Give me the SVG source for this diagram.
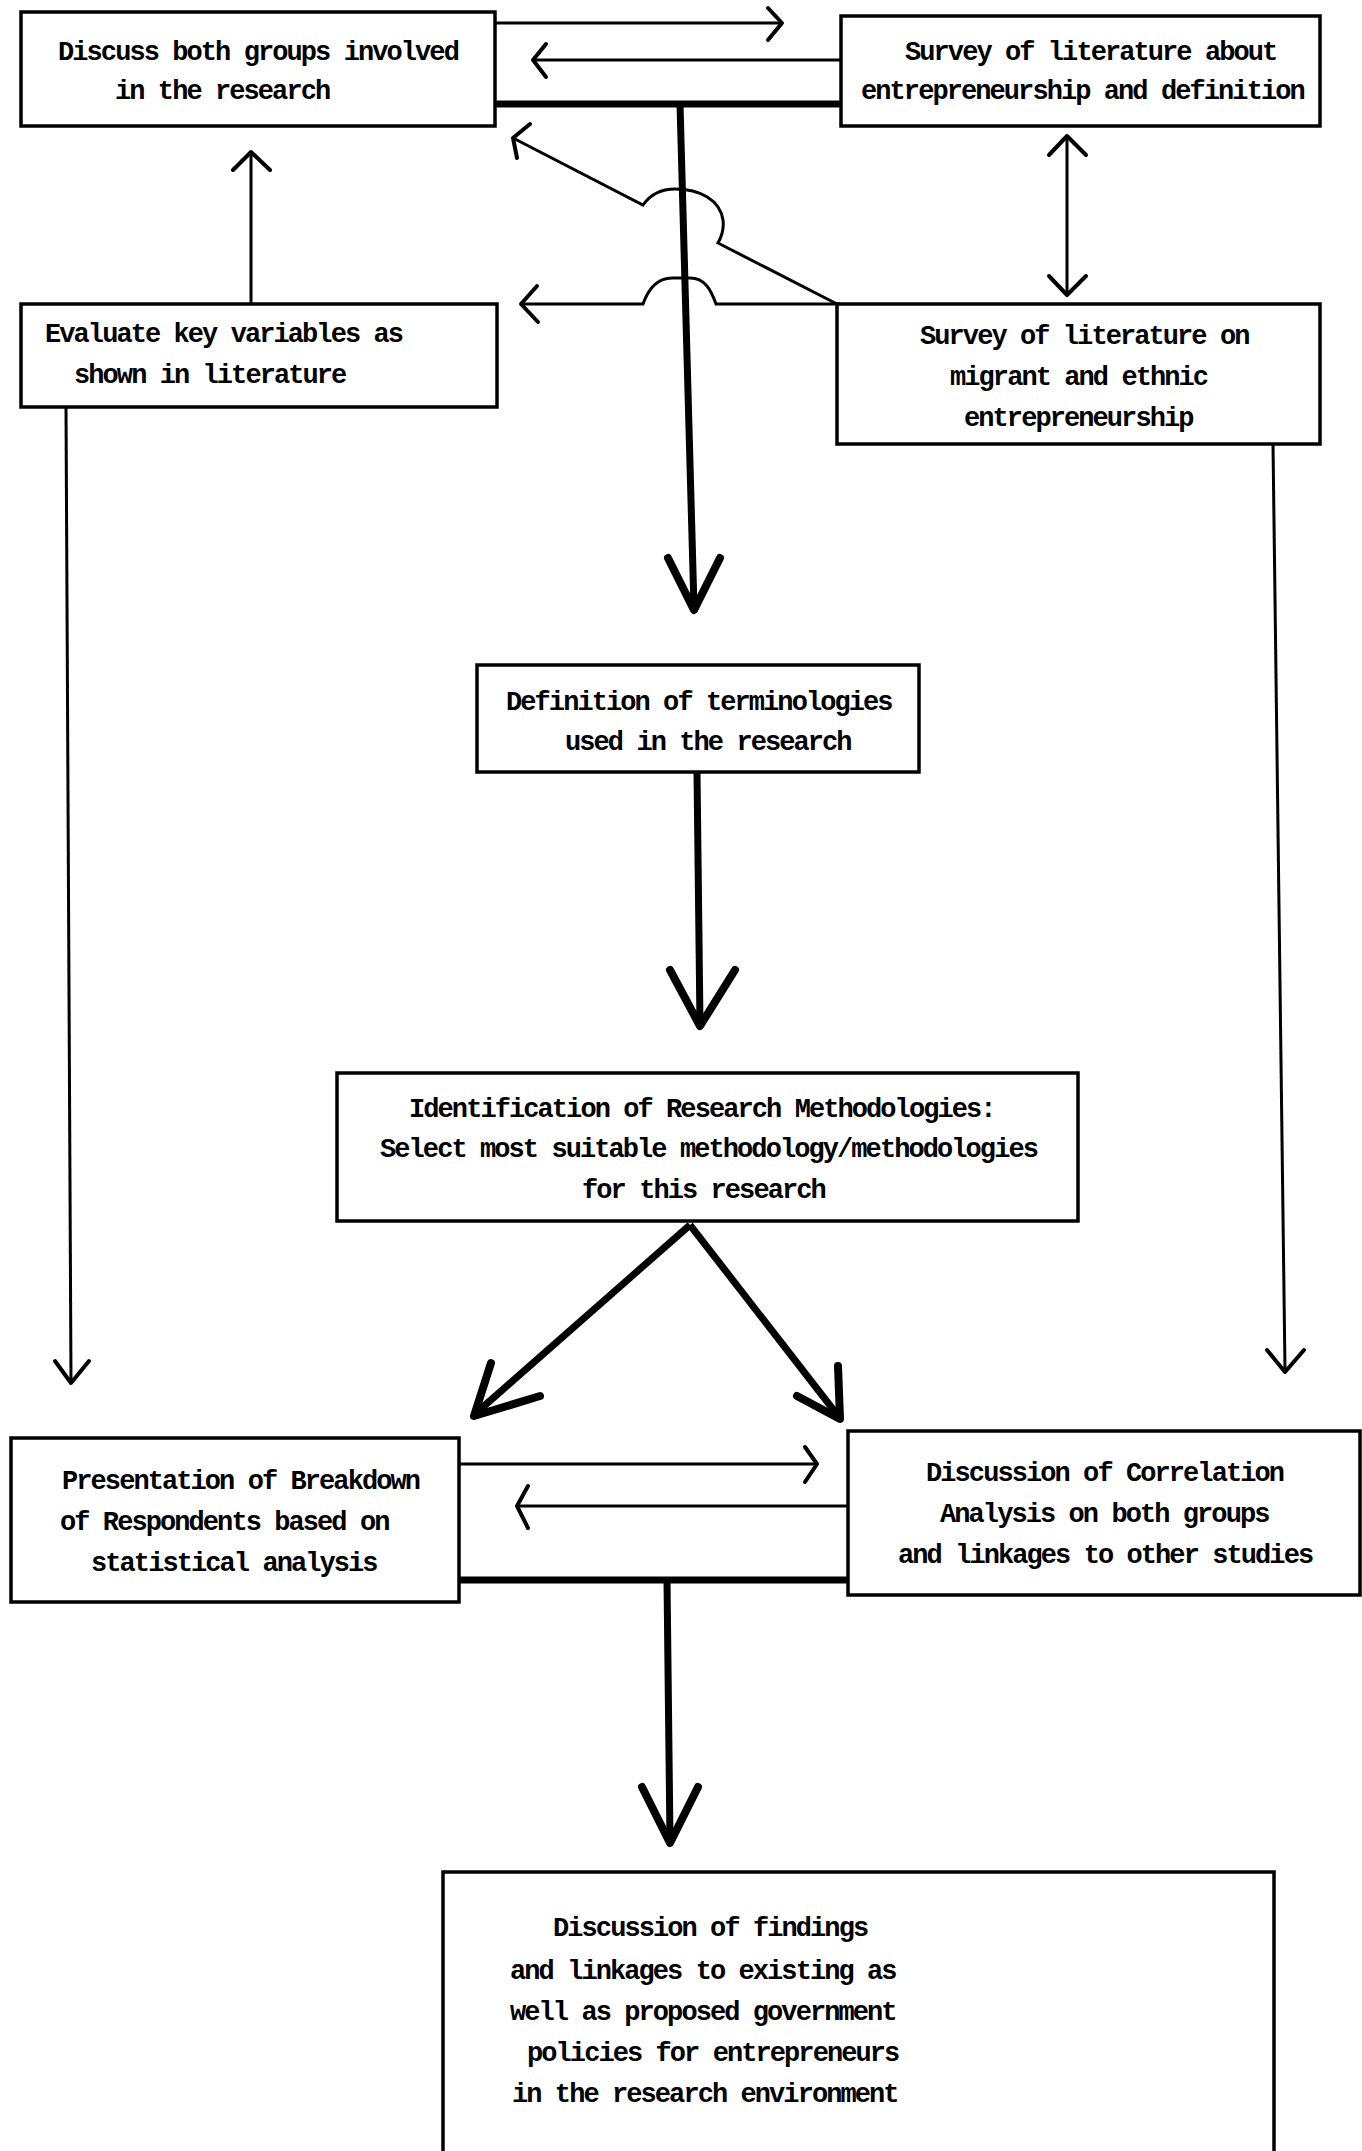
<svg xmlns="http://www.w3.org/2000/svg" width="1362" height="2151" viewBox="0 0 1362 2151">
<style>
.box{fill:#fff;stroke:#000;stroke-width:3.5}
.t{font-family:"Liberation Mono","DejaVu Sans Mono",monospace;font-weight:bold;font-size:27px;letter-spacing:-1.92px;fill:#000}
.thin{fill:none;stroke:#000;stroke-width:3}
.thick{fill:none;stroke:#000;stroke-width:7}
.ah{fill:none;stroke:#000;stroke-width:4;stroke-linecap:round;stroke-linejoin:round}
.ahb{fill:none;stroke:#000;stroke-width:8;stroke-linecap:round;stroke-linejoin:round}
</style>
<rect width="1362" height="2151" fill="#fff"/>
<g id="connectors">
  <!-- A -> B -->
  <line class="thin" x1="495" y1="23" x2="782" y2="23"/>
  <polyline class="ah" points="768,8 782,23 768,40"/>
  <!-- B -> A -->
  <line class="thin" x1="841" y1="60" x2="534" y2="60"/>
  <polyline class="ah" points="546,44 533,60 546,77"/>
  <!-- thick join and down to E -->
  <line class="thick" x1="495" y1="104" x2="841" y2="104"/>
  <line class="thick" x1="680" y1="104" x2="694" y2="608"/>
  <polyline class="ahb" points="668,558 694,610 720,558"/>
  <!-- D -> A diagonal with hop -->
  <path class="thin" d="M837,304 L718,243 C722,236 724,228 723,220 C720,200 700,189 675,189 C660,189 650,195 643,205 L513,138"/>
  <polyline class="ah" points="530,124 513,138 517,158"/>
  <!-- D -> C horizontal with hop -->
  <path class="thin" d="M840,304 L716,304 C711,290 705,278 690,278 L672,278 C656,278 648,290 643,304 L524,304"/>
  <polyline class="ah" points="537,286 521,304 538,322"/>
  <!-- C -> A -->
  <line class="thin" x1="251" y1="304" x2="251" y2="154"/>
  <polyline class="ah" points="233,170 251,152 270,170"/>
  <!-- B <-> D -->
  <line class="thin" x1="1067" y1="137" x2="1067" y2="293"/>
  <polyline class="ah" points="1049,155 1067,136 1086,155"/>
  <polyline class="ah" points="1049,276 1067,295 1086,276"/>
  <!-- C -> G long -->
  <line class="thin" x1="66" y1="407" x2="71" y2="1381"/>
  <polyline class="ah" points="55,1361 71,1383 89,1361"/>
  <!-- D -> H long -->
  <line class="thin" x1="1273" y1="444" x2="1285" y2="1370"/>
  <polyline class="ah" points="1267,1350 1285,1372 1304,1350"/>
  <!-- E -> F -->
  <line class="thick" x1="697" y1="772" x2="700" y2="1024"/>
  <polyline class="ahb" points="670,970 700,1026 735,970"/>
  <!-- F -> G, F -> H -->
  <line class="thick" x1="690" y1="1225" x2="475" y2="1414"/>
  <polyline class="ahb" points="491,1363 474,1416 540,1396"/>
  <line class="thick" x1="690" y1="1225" x2="839" y2="1417"/>
  <polyline class="ahb" points="838,1366 840,1419 797,1396"/>
  <!-- G -> H -->
  <line class="thin" x1="459" y1="1464" x2="816" y2="1464"/>
  <polyline class="ah" points="805,1447 817,1464 805,1482"/>
  <!-- H -> G -->
  <line class="thin" x1="848" y1="1506" x2="519" y2="1506"/>
  <polyline class="ah" points="528,1486 517,1506 528,1528"/>
  <!-- thick join down to I -->
  <line class="thick" x1="459" y1="1580" x2="848" y2="1580"/>
  <line class="thick" x1="667" y1="1580" x2="670" y2="1840"/>
  <polyline class="ahb" points="642,1787 670,1843 698,1787"/>
</g>
<g id="nodeA">
  <rect class="box" x="21" y="12" width="474" height="114"/>
  <text class="t" x="58" y="60">Discuss both groups involved</text>
  <text class="t" x="115" y="99">in the research</text>
</g>
<g id="nodeB">
  <rect class="box" x="841" y="16" width="479" height="110"/>
  <text class="t" x="905" y="60">Survey of literature about</text>
  <text class="t" x="861" y="99">entrepreneurship and definition</text>
</g>
<g id="nodeC">
  <rect class="box" x="21" y="304" width="476" height="103"/>
  <text class="t" x="45" y="342">Evaluate key variables as</text>
  <text class="t" x="74" y="383">shown in literature</text>
</g>
<g id="nodeD">
  <rect class="box" x="837" y="304" width="483" height="140"/>
  <text class="t" x="920" y="344">Survey of literature on</text>
  <text class="t" x="950" y="385">migrant and ethnic</text>
  <text class="t" x="964" y="426">entrepreneurship</text>
</g>
<g id="nodeE">
  <rect class="box" x="477" y="665" width="442" height="107"/>
  <text class="t" x="506" y="710">Definition of terminologies</text>
  <text class="t" x="565" y="750">used in the research</text>
</g>
<g id="nodeF">
  <rect class="box" x="337" y="1073" width="741" height="148"/>
  <text class="t" x="409" y="1117">Identification of Research Methodologies:</text>
  <text class="t" x="380" y="1157">Select most suitable methodology/methodologies</text>
  <text class="t" x="582" y="1198">for this research</text>
</g>
<g id="nodeG">
  <rect class="box" x="11" y="1438" width="448" height="164"/>
  <text class="t" x="62" y="1489">Presentation of Breakdown</text>
  <text class="t" x="60" y="1530">of Respondents based on</text>
  <text class="t" x="91" y="1571">statistical analysis</text>
</g>
<g id="nodeH">
  <rect class="box" x="848" y="1431" width="512" height="164"/>
  <text class="t" x="926" y="1481">Discussion of Correlation</text>
  <text class="t" x="940" y="1522">Analysis on both groups</text>
  <text class="t" x="898" y="1563">and linkages to other studies</text>
</g>
<g id="nodeI">
  <rect class="box" x="443" y="1872" width="831" height="300"/>
  <text class="t" x="553" y="1936">Discussion of findings</text>
  <text class="t" x="510" y="1979">and linkages to existing as</text>
  <text class="t" x="510" y="2020">well as proposed government</text>
  <text class="t" x="527" y="2061">policies for entrepreneurs</text>
  <text class="t" x="512" y="2102">in the research environment</text>
</g>
</svg>
